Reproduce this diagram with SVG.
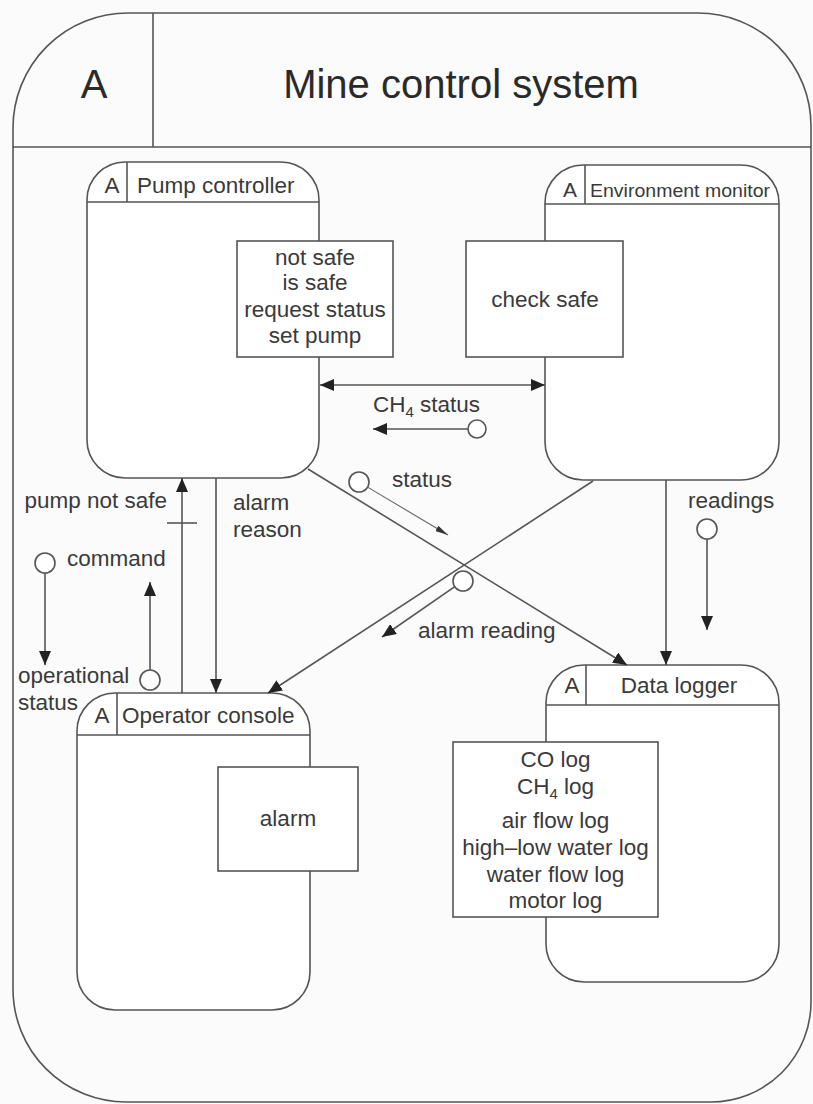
<svg xmlns="http://www.w3.org/2000/svg" width="813" height="1104" viewBox="0 0 813 1104">
<style>
  .ln{fill:none;stroke:#555;stroke-width:1.6}
  .nd{fill:#fff;stroke:#555;stroke-width:1.6}
  .thin{fill:none;stroke:#666;stroke-width:1.1}
  .ci{fill:#fff;stroke:#555;stroke-width:1.6}
  text{font-family:"Liberation Sans",Arial,sans-serif;fill:#3a3a3a;font-size:22.5px}
  .big{font-size:40px;fill:#2a2a2a}
  .mid{text-anchor:middle}
</style>
<defs>
  <marker id="ah" markerUnits="userSpaceOnUse" markerWidth="14" markerHeight="12" viewBox="0 0 14 12" refX="14" refY="6" orient="auto-start-reverse">
    <path d="M0,0 L14,6 L0,12 z" fill="#222"/>
  </marker>
  <marker id="ahs" markerUnits="userSpaceOnUse" markerWidth="13" markerHeight="6" viewBox="0 0 13 6" refX="13" refY="3" orient="auto">
    <path d="M0,0 L13,3 L0,6 z" fill="#333"/>
  </marker>
</defs>
<rect width="813" height="1104" fill="#fbfbfc"/>

<g id="frame">
  <path class="ln" d="M13,128 A115,115 0 0 1 128,13 L698,13 A113,113 0 0 1 811,126 L811,1002 A100,100 0 0 1 711,1102 L126,1102 A113,113 0 0 1 13,989 Z"/>
  <line class="ln" x1="13" y1="147" x2="811" y2="147"/>
  <line class="ln" x1="153" y1="13" x2="153" y2="147"/>
  <text class="big mid" x="94" y="98">A</text>
  <text class="big mid" x="461" y="98">Mine control system</text>
</g>

<g id="pump-controller">
  <rect class="nd" x="87" y="162" width="232" height="316" rx="38" ry="38"/>
  <line class="ln" x1="87" y1="202" x2="319" y2="202"/>
  <line class="ln" x1="127" y1="162" x2="127" y2="202"/>
  <text class="mid" x="112" y="193">A</text>
  <text x="137" y="193">Pump controller</text>
  <rect class="nd" x="237" y="241" width="156" height="116"/>
  <text class="mid" x="315" y="265">not safe</text>
  <text class="mid" x="315" y="290">is safe</text>
  <text class="mid" x="315" y="317">request status</text>
  <text class="mid" x="315" y="343">set pump</text>
</g>

<g id="environment-monitor">
  <rect class="nd" x="545" y="165" width="234" height="315" rx="38" ry="38"/>
  <line class="ln" x1="545" y1="204" x2="779" y2="204"/>
  <line class="ln" x1="585" y1="165" x2="585" y2="204"/>
  <text class="mid" x="570" y="197" style="font-size:21px">A</text>
  <text x="590" y="197" style="font-size:19px" textLength="180" lengthAdjust="spacingAndGlyphs">Environment monitor</text>
  <rect class="nd" x="466" y="241" width="157" height="116"/>
  <text class="mid" x="545" y="307">check safe</text>
</g>

<g id="operator-console">
  <rect class="nd" x="77" y="693" width="233" height="317" rx="38" ry="38"/>
  <line class="ln" x1="77" y1="735" x2="310" y2="735"/>
  <line class="ln" x1="117" y1="693" x2="117" y2="735"/>
  <text class="mid" x="102" y="723">A</text>
  <text x="122" y="723">Operator console</text>
  <rect class="nd" x="218" y="767" width="140" height="104"/>
  <text class="mid" x="288" y="826">alarm</text>
</g>

<g id="data-logger">
  <rect class="nd" x="546" y="665" width="233" height="317" rx="38" ry="38"/>
  <line class="ln" x1="546" y1="705" x2="779" y2="705"/>
  <line class="ln" x1="586" y1="665" x2="586" y2="705"/>
  <text class="mid" x="572" y="693">A</text>
  <text class="mid" x="679" y="693">Data logger</text>
  <rect class="nd" x="453" y="742" width="205" height="175"/>
  <text class="mid" x="555.5" y="767">CO log</text>
  <text class="mid" x="555.5" y="794">CH<tspan style="font-size:15px" dy="5">4</tspan><tspan dy="-5"> log</tspan></text>
  <text class="mid" x="555.5" y="828">air flow log</text>
  <text class="mid" x="555.5" y="855">high–low water log</text>
  <text class="mid" x="555.5" y="882">water flow log</text>
  <text class="mid" x="555.5" y="908">motor log</text>
</g>

<g id="connectors">
  <line class="ln" x1="320" y1="385" x2="545" y2="385" marker-start="url(#ah)" marker-end="url(#ah)"/>
  <circle class="ci" cx="477" cy="429" r="9"/>
  <line class="ln" x1="468" y1="429" x2="373" y2="429" marker-end="url(#ah)"/>
  <text x="373" y="412">CH<tspan style="font-size:15px" dy="5">4</tspan><tspan dy="-5"> status</tspan></text>

  <line class="ln" x1="308" y1="469" x2="627" y2="665" marker-end="url(#ah)"/>
  <line class="ln" x1="593" y1="481" x2="268" y2="693" marker-end="url(#ah)"/>

  <circle class="ci" cx="359" cy="482" r="10"/>
  <line class="thin" x1="367.6" y1="487.1" x2="448" y2="535" marker-end="url(#ahs)"/>
  <text x="392" y="487">status</text>

  <circle class="ci" cx="463" cy="581" r="10"/>
  <line class="ln" x1="454.8" y1="586.7" x2="382" y2="637" marker-end="url(#ah)"/>
  <text x="418" y="638">alarm reading</text>

  <line class="ln" x1="666" y1="480" x2="666" y2="665" marker-end="url(#ah)"/>
  <circle class="ci" cx="707" cy="529" r="10"/>
  <line class="ln" x1="707" y1="539" x2="707" y2="630" marker-end="url(#ah)"/>
  <text x="688" y="508">readings</text>

  <line class="ln" x1="182" y1="693" x2="182" y2="478" marker-end="url(#ah)"/>
  <line class="ln" x1="167" y1="523" x2="197" y2="523"/>
  <text x="167" y="508" style="text-anchor:end">pump not safe</text>

  <line class="ln" x1="216" y1="478" x2="216" y2="693" marker-end="url(#ah)"/>
  <text x="233" y="510">alarm</text>
  <text x="233" y="537">reason</text>

  <circle class="ci" cx="150" cy="680" r="10"/>
  <line class="ln" x1="150" y1="670" x2="150" y2="582" marker-end="url(#ah)"/>
  <text x="67" y="566">command</text>

  <circle class="ci" cx="45" cy="563" r="10"/>
  <line class="ln" x1="45" y1="573" x2="45" y2="665" marker-end="url(#ah)"/>
  <text x="18" y="683">operational</text>
  <text x="18" y="710">status</text>
</g>
</svg>
